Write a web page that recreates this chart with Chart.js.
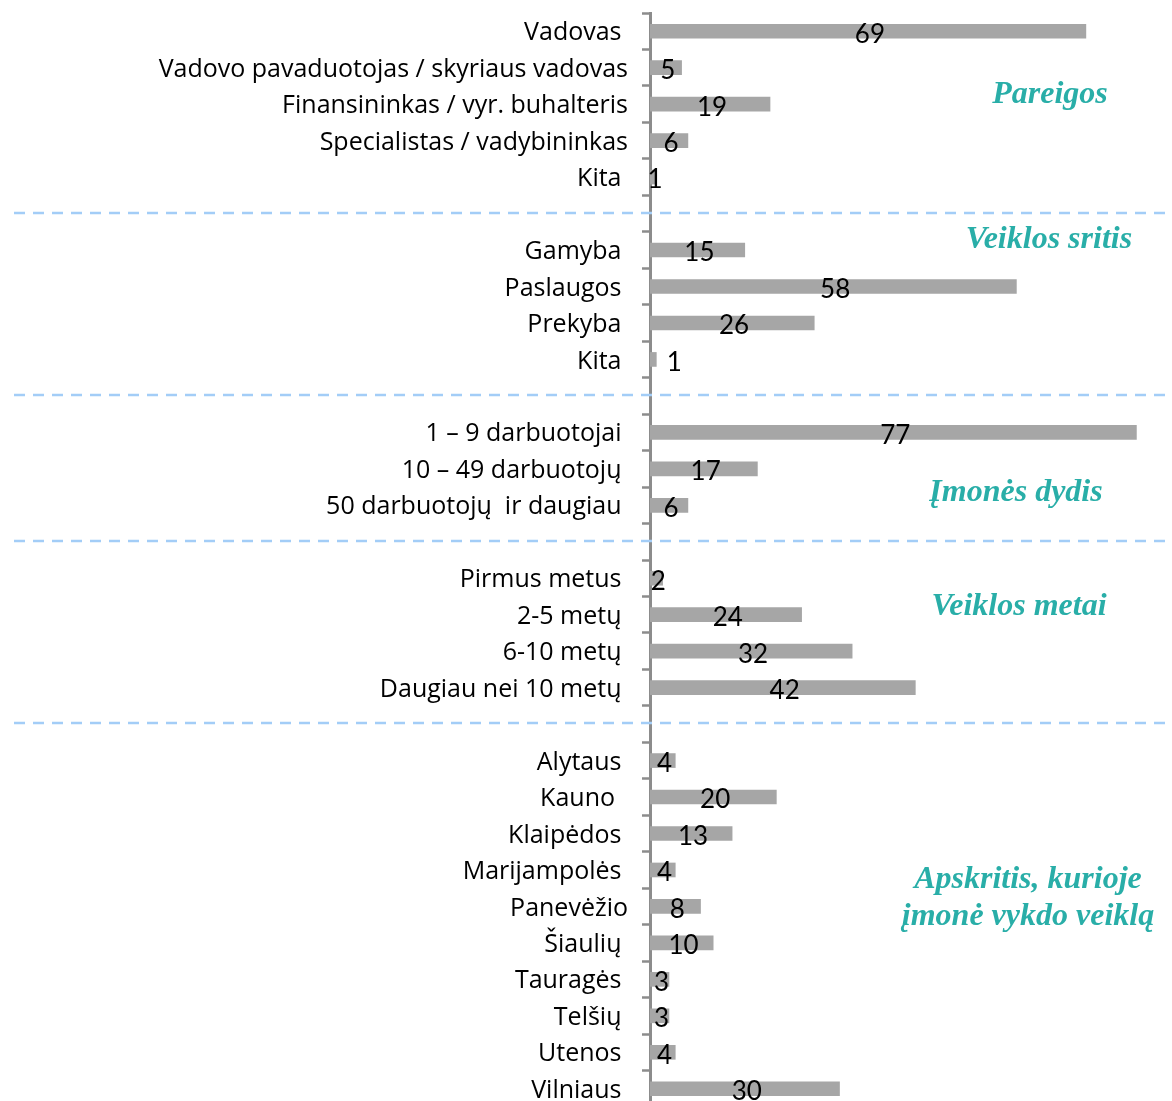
<!DOCTYPE html>
<html>
<head>
  <title>Respondentų pasiskirstymas</title>
  <script src="https://cdn.jsdelivr.net/npm/chart.js"></script>
  <style>
    html, body { margin: 0; padding: 0; overflow: hidden; background: #fff; }
    #wrap { width: 1172px; height: 1112px; }
  </style>
</head>
<body>
  <div id="wrap"><canvas id="respChart"></canvas></div>

  <script>
    // categories, empty strings are the gaps between groups
    const categories = [
      'Vadovas ', 'Vadovo pavaduotojas / skyriaus vadovas', 'Finansininkas / vyr. buhalteris', 'Specialistas / vadybininkas', 'Kita ',
      '',
      'Gamyba ', 'Paslaugos ', 'Prekyba ', 'Kita ',
      '',
      '1 – 9 darbuotojai ', '10 – 49 darbuotojų ', '50 darbuotojų  ir daugiau ',
      '',
      'Pirmus metus ', '2-5 metų ', '6-10 metų ', 'Daugiau nei 10 metų ',
      '',
      'Alytaus ', 'Kauno  ', 'Klaipėdos ', 'Marijampolės ', 'Panevėžio', 'Šiaulių ', 'Tauragės ', 'Telšių ', 'Utenos ', 'Vilniaus '
    ];
    const counts = [
      69, 5, 19, 6, 1,
      null,
      15, 58, 26, 1,
      null,
      77, 17, 6,
      null,
      2, 24, 32, 42,
      null,
      4, 20, 13, 4, 8, 10, 3, 3, 4, 30
    ];
    const gapRows = [5, 10, 14, 19];
    // group titles: text lines and the row they sit at
    const groupTitles = [
      { lines: ['Pareigos'], row: 1.75, x: 1050 },
      { lines: ['Veiklos sritis'], row: 5.73, x: 1049 },
      { lines: ['Įmonės dydis'], row: 12.66, x: 1016 },
      { lines: ['Veiklos metai'], row: 15.79, x: 1019 },
      { lines: ['Apskritis, kurioje', 'įmonė vykdo veiklą'], row: 23.27, x: 1028 }
    ];

    const extras = {
      id: 'extras',
      afterDatasetsDraw(chart) {
        const ctx = chart.ctx;
        const y = chart.scales.y;
        const meta = chart.getDatasetMeta(0);

        // value labels
        ctx.save();
        ctx.fillStyle = '#000';
        ctx.font = '26px Lato';
        ctx.textAlign = 'center';
        ctx.textBaseline = 'middle';
        meta.data.forEach((bar, i) => {
          if (counts[i] == null) return;
          let cx = (bar.x + bar.base) / 2 + 2;
          if (i === 9) cx = bar.x + 18;
          ctx.fillText(counts[i], cx, bar.y + 3);
        });
        ctx.restore();

        // dashed separators
        ctx.save();
        ctx.strokeStyle = '#a3cdf7';
        ctx.lineWidth = 2.5;
        ctx.setLineDash([11, 8]);
        gapRows.forEach(r => {
          const py = Math.round(y.getPixelForValue(r)) - 1;
          ctx.beginPath();
          ctx.moveTo(14, py);
          ctx.lineTo(chart.width, py);
          ctx.stroke();
        });
        ctx.restore();

        // group titles
        ctx.save();
        ctx.fillStyle = '#29aea8';
        ctx.font = 'italic bold 32px "Liberation Serif"';
        ctx.textAlign = 'center';
        ctx.textBaseline = 'middle';
        groupTitles.forEach(t => {
          const py = y.getPixelForValue(t.row);
          t.lines.forEach((line, k) => ctx.fillText(line, t.x, py + k * 37));
        });
        ctx.restore();
      }
    };

    const ctx = document.getElementById('respChart').getContext('2d');
    new Chart(ctx, {
      type: 'bar',
      data: {
        labels: categories,
        datasets: [{
          data: counts,
          backgroundColor: '#a6a6a6',
          barThickness: 14
        }]
      },
      options: {
        indexAxis: 'y',
        responsive: true,
        maintainAspectRatio: false,
        animation: false,
        layout: { padding: { top: 13, bottom: 5, left: 0, right: 4 } },
        plugins: {
          legend: { display: false },
          tooltip: { enabled: false }
        },
        scales: {
          x: {
            display: false,
            min: 0,
            max: 82
          },
          y: {
            afterFit(scale) {
              scale.width = 650;
              scale.paddingTop = 0;
              scale.paddingBottom = 0;
            },
            border: { display: true, color: '#8c8c8c', width: 3 },
            grid: {
              display: true,
              drawOnChartArea: false,
              drawTicks: true,
              tickLength: 8,
              tickColor: '#8c8c8c',
              tickWidth: 2.5
            },
            ticks: {
              color: '#000',
              font: { family: 'Open Sans', size: 25 },
              padding: 14,
              labelOffset: 2,
              autoSkip: false
            }
          }
        }
      },
      plugins: [extras]
    });
  </script>
</body>
</html>
